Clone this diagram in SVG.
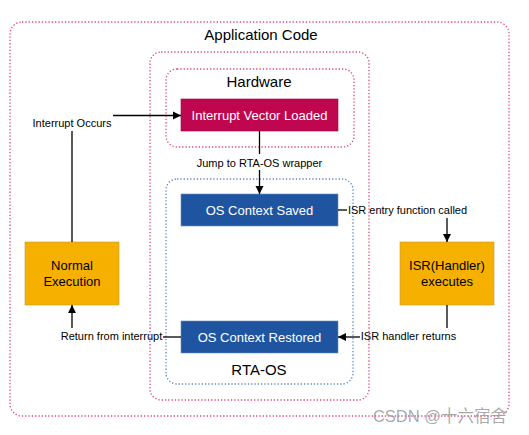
<svg xmlns="http://www.w3.org/2000/svg" width="529" height="435" viewBox="0 0 529 435">
<defs>
<marker id="ah" markerWidth="10" markerHeight="10" refX="9" refY="5" orient="auto" markerUnits="userSpaceOnUse">
<path d="M1,1 L9,5 L1,9 Z" fill="#000"/>
</marker>
<style>
.pink{fill:none;stroke:#e0457a;stroke-width:1.3;stroke-dasharray:1.3 2}
.blue{fill:none;stroke:#5b8ac4;stroke-width:1.3;stroke-dasharray:1.3 2}
.title{font-family:"Liberation Sans",Arial,sans-serif;font-size:15px;fill:#000;text-anchor:middle}
.box{font-family:"Liberation Sans",Arial,sans-serif;font-size:13px;fill:#fff;text-anchor:middle}
.ybox{font-family:"Liberation Sans",Arial,sans-serif;font-size:13px;fill:#000;text-anchor:middle}
.lbl{font-family:"Liberation Sans",Arial,sans-serif;font-size:11px;fill:#000;text-anchor:middle}
.ln{fill:none;stroke:#000;stroke-width:1.3}
</style>
</defs>
<g id="app-code">
<rect class="pink" x="10" y="22" width="499" height="394" rx="12"/>
<text class="title" x="261" y="40">Application Code</text>
</g>
<g id="middle">
<rect class="pink" x="150" y="52" width="219" height="348" rx="11"/>
</g>
<g id="hardware">
<rect class="pink" x="166" y="69" width="188" height="78" rx="11"/>
<text class="title" x="259" y="87">Hardware</text>
</g>
<g id="rta-os">
<rect class="blue" x="166" y="179" width="187" height="205" rx="11"/>
<text class="title" x="259" y="375">RTA-OS</text>
</g>
<g id="ivl">
<rect x="181" y="99" width="157" height="32" fill="#c0064f" stroke="#a50040" stroke-width="0.6"/>
<text class="box" x="259.5" y="120">Interrupt Vector Loaded</text>
</g>
<g id="ocs">
<rect x="181" y="194" width="157" height="32" fill="#1f55a0" stroke="#6c8ebf" stroke-width="0.6"/>
<text class="box" x="259.5" y="215">OS Context Saved</text>
</g>
<g id="ocr">
<rect x="181" y="321" width="157" height="32" fill="#1f55a0" stroke="#6c8ebf" stroke-width="0.6"/>
<text class="box" x="259.5" y="342">OS Context Restored</text>
</g>
<g id="normal">
<rect x="25" y="242" width="94" height="63" fill="#f5b000" stroke="#c49a40" stroke-width="0.6"/>
<text class="ybox" x="72" y="270">Normal</text>
<text class="ybox" x="72" y="286">Execution</text>
</g>
<g id="isr">
<rect x="400" y="242" width="94" height="63" fill="#f5b000" stroke="#c49a40" stroke-width="0.6"/>
<text class="ybox" x="447" y="270">ISR(Handler)</text>
<text class="ybox" x="447" y="286">executes</text>
</g>
<g id="connectors">
<path class="ln" d="M72,242 V131"/>
<path class="ln" d="M113,115.5 H181" marker-end="url(#ah)"/>
<text class="lbl" x="72" y="127">Interrupt Occurs</text>
<path class="ln" d="M259.5,131 V154"/>
<path class="ln" d="M259.5,170 V194" marker-end="url(#ah)"/>
<text class="lbl" x="259.5" y="167">Jump to RTA-OS wrapper</text>
<path class="ln" d="M338,210 H347"/>
<text class="lbl" x="407.5" y="214">ISR entry function called</text>
<path class="ln" d="M447,218 V242" marker-end="url(#ah)"/>
<path class="ln" d="M447,305 V328"/>
<text class="lbl" x="408.5" y="340">ISR handler returns</text>
<path class="ln" d="M360,337 H338" marker-end="url(#ah)"/>
<path class="ln" d="M181,337 H163"/>
<text class="lbl" x="111.5" y="340">Return from interrupt</text>
<path class="ln" d="M72,328 V305" marker-end="url(#ah)"/>
</g>
<text x="440" y="422" font-family="'Liberation Sans','Noto Sans CJK SC',sans-serif" font-size="16.5" fill="#9a9a9a" fill-opacity="0.85" text-anchor="middle">CSDN @十六宿舍</text>
</svg>
